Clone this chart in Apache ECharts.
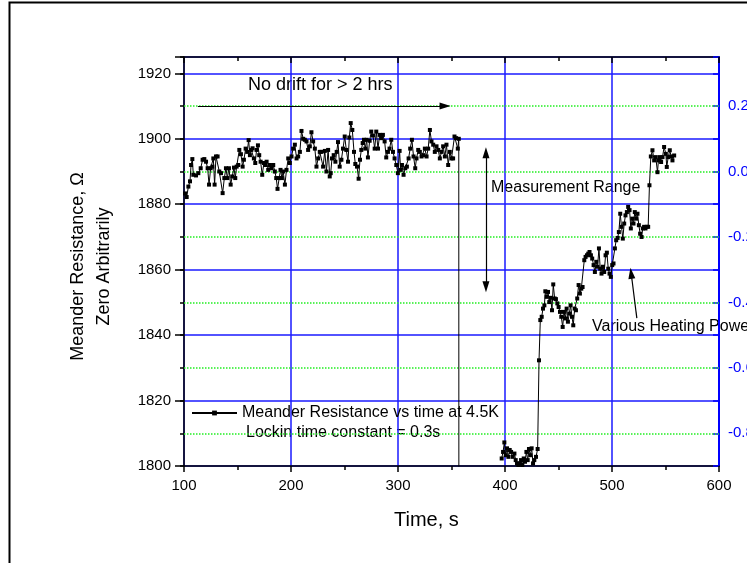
<!DOCTYPE html>
<html>
<head>
<meta charset="utf-8">
<script src="https://cdn.jsdelivr.net/npm/echarts@6/dist/echarts.min.js"></script>
<style>
html, body { margin: 0; padding: 0; background: #fff; }
#main { width: 747px; height: 563px; }
</style>
</head>
<body>
<div id="main"></div>
<script>
// first run, before the heater steps (time in s, resistance in ohm)
const driftTime = [101.0, 102.5, 104.1, 105.6, 106.6, 107.8, 108.7, 111.2, 113.4, 115.6, 117.4, 119.0, 120.6, 122.1, 123.4, 124.9, 126.5, 127.4, 128.6, 129.9,
  131.4, 133.0, 134.6, 136.1, 137.7, 139.2, 140.5, 142.0, 143.6, 145.1, 146.7, 147.9, 149.2, 150.7, 151.7, 153.2, 154.8, 156.0, 157.6, 159.1,
  160.4, 161.6, 162.9, 164.1, 165.3, 166.6, 167.8, 169.1, 170.3, 171.6, 173.1, 174.7, 175.9, 177.2, 178.7, 180.3, 181.8, 183.4, 184.9, 186.2,
  187.4, 189.0, 190.2, 191.5, 192.7, 194.3, 195.8, 197.4, 198.9, 200.5, 202.0, 203.6, 205.2, 206.7, 208.3, 209.8, 211.4, 212.9, 214.5, 216.0,
  217.6, 219.1, 220.7, 222.3, 223.8, 225.4, 226.9, 228.5, 230.0, 231.6, 233.1, 234.7, 236.2, 237.1, 238.3, 239.9, 241.5, 242.7, 243.9, 245.5,
  247.1, 248.6, 250.2, 251.7, 253.3, 254.5, 255.8, 257.3, 258.9, 260.1, 261.7, 263.2, 264.5, 265.7, 267.0, 268.2, 269.4, 270.7, 271.9, 273.5,
  275.0, 276.6, 278.2, 279.7, 281.3, 282.8, 284.4, 285.9, 287.5, 289.0, 290.6, 292.1, 293.7, 295.3, 296.8, 298.4, 299.9, 301.5, 302.4, 303.7,
  305.2, 306.8, 308.3, 309.9, 311.4, 313.0, 314.5, 316.1, 317.3, 318.9, 320.4, 322.0, 323.6, 325.1, 326.7, 328.2, 329.8, 331.3, 332.9, 334.4,
  336.0, 337.6, 339.1, 340.7, 342.2, 343.8, 345.3, 346.9, 348.4, 350.0, 351.5, 352.8, 354.3, 355.9, 356.8, 357.0];
const driftRes = [1883.3, 1882.2, 1885.4, 1887.0, 1892.0, 1893.8, 1889.0, 1888.8, 1889.5, 1891.0, 1893.6, 1893.8, 1893.0, 1891.0, 1886.0, 1891.0, 1891.5, 1894.0, 1886.0, 1894.6,
  1894.6, 1890.0, 1889.5, 1883.4, 1888.0, 1891.0, 1888.0, 1891.0, 1886.0, 1888.5, 1891.2, 1888.0, 1891.5, 1892.0, 1896.6, 1895.3, 1891.5, 1893.6, 1897.0, 1896.0,
  1899.6, 1895.0, 1896.6, 1897.1, 1894.0, 1892.6, 1896.6, 1898.0, 1895.0, 1893.0, 1889.0, 1892.6, 1892.0, 1893.0, 1890.5, 1892.0, 1891.0, 1892.0, 1890.0, 1888.0,
  1884.7, 1888.0, 1890.5, 1888.0, 1890.0, 1886.0, 1890.5, 1894.0, 1892.6, 1894.6, 1897.0, 1898.2, 1894.0, 1894.6, 1896.0, 1902.4, 1900.0, 1899.7, 1899.2, 1896.6,
  1897.7, 1902.0, 1899.2, 1897.0, 1891.5, 1894.0, 1896.0, 1896.0, 1891.5, 1896.3, 1890.0, 1896.6, 1888.5, 1889.5, 1894.0, 1895.0, 1893.0, 1896.0, 1899.0, 1891.5,
  1893.6, 1897.0, 1900.7, 1896.6, 1893.0, 1900.4, 1904.8, 1902.7, 1896.0, 1892.3, 1891.5, 1887.8, 1893.6, 1896.6, 1898.7, 1899.7, 1897.0, 1899.7, 1894.3, 1899.4,
  1902.2, 1901.0, 1897.0, 1902.2, 1897.0, 1901.2, 1900.2, 1901.2, 1899.2, 1894.3, 1896.0, 1897.0, 1899.7, 1896.0, 1894.0, 1892.0, 1889.5, 1896.3, 1890.5, 1892.0,
  1889.0, 1891.0, 1891.5, 1894.0, 1897.0, 1899.7, 1894.6, 1891.0, 1894.0, 1896.6, 1896.0, 1894.6, 1895.0, 1897.0, 1894.6, 1897.0, 1902.7, 1899.2, 1898.2, 1896.0,
  1897.7, 1896.6, 1894.0, 1896.0, 1897.7, 1894.6, 1898.2, 1892.0, 1896.0, 1894.0, 1894.0, 1900.7, 1900.2, 1897.0, 1900.0, 1650.0];

// second run, heating power stepped up
const heatTime = [396.9, 398.2, 399.4, 400.7, 401.9, 403.2, 404.4, 405.7, 407.2, 408.8, 410.0, 411.2, 412.5, 413.7, 415.0, 416.2, 417.5, 418.7, 420.0, 421.2,
  422.4, 423.7, 424.9, 426.2, 427.4, 429.0, 430.5, 431.8, 433.0, 434.3, 435.5, 436.8, 437.7, 438.9, 440.2, 441.4, 442.7, 443.9, 445.1, 446.4,
  447.6, 448.9, 450.1, 451.4, 452.6, 453.9, 455.1, 456.3, 457.6, 458.8, 460.1, 461.3, 462.6, 463.8, 465.1, 466.3, 467.5, 468.8, 470.0, 471.3,
  472.5, 474.1, 475.3, 476.6, 477.8, 479.0, 480.3, 481.5, 482.8, 484.0, 485.3, 486.5, 487.8, 489.0, 490.2, 491.5, 492.7, 494.0, 495.2, 496.5,
  497.7, 498.9, 500.2, 501.4, 502.7, 503.9, 505.2, 506.4, 507.7, 508.9, 510.1, 511.4, 512.6, 513.9, 515.1, 516.4, 517.6, 518.9, 520.1, 521.3,
  522.6, 523.8, 525.1, 526.3, 527.6, 528.8, 530.0, 531.3, 532.5, 533.8, 535.0, 536.3, 537.8, 539.4, 540.9, 542.5, 543.4, 544.7, 545.9, 547.2,
  548.7, 550.3, 551.2, 552.5, 554.0, 555.3, 556.5, 558.1];
const heatRes = [1802.3, 1804.3, 1807.2, 1803.3, 1805.4, 1802.8, 1804.9, 1804.3, 1802.8, 1803.8, 1801.8, 1800.8, 1800.3, 1800.8, 1801.8, 1800.3, 1802.3, 1801.3, 1804.3, 1801.8,
  1805.2, 1803.3, 1805.4, 1800.8, 1801.8, 1802.8, 1805.2, 1832.3, 1844.6, 1845.6, 1848.1, 1849.1, 1853.4, 1851.7, 1853.2, 1850.1, 1851.4, 1847.6, 1855.5, 1851.2,
  1851.0, 1849.7, 1848.6, 1847.1, 1845.6, 1842.5, 1847.1, 1845.1, 1848.1, 1844.1, 1846.6, 1849.1, 1845.6, 1843.0, 1848.1, 1847.6, 1851.2, 1855.3, 1852.7, 1854.2,
  1854.7, 1862.9, 1863.9, 1864.4, 1864.9, 1865.4, 1864.4, 1863.4, 1861.4, 1859.3, 1862.4, 1860.9, 1866.5, 1860.3, 1858.8, 1860.9, 1859.3, 1864.4, 1865.2, 1860.3,
  1858.8, 1857.8, 1861.4, 1861.9, 1866.5, 1869.0, 1869.7, 1871.5, 1877.1, 1873.1, 1869.5, 1874.1, 1876.6, 1877.6, 1879.2, 1878.2, 1872.6, 1875.6, 1874.1, 1877.6,
  1875.6, 1877.1, 1873.6, 1871.0, 1870.0, 1872.6, 1873.1, 1872.6, 1873.1, 1873.1, 1885.8, 1894.6, 1896.5, 1893.4, 1894.4, 1889.8, 1893.4, 1894.4, 1892.9, 1894.4,
  1897.5, 1895.4, 1891.4, 1894.4, 1896.5, 1894.6, 1893.4, 1894.9];

const minorLevels = [1810, 1830, 1850, 1870, 1890, 1910];
const rightTickLabels = [-0.8, -0.6, -0.4, -0.2, 0.0, 0.2];
const seriesName = 'Meander Resistance vs time at 4.5K';

const FONT = '"Liberation Sans", Arial, sans-serif';

function pairs(ts, vs) {
    return ts.map((t, i) => [t, vs[i]]);
}

const dataLine = (name, data) => ({
    name: name,
    type: 'line',
    data: data,
    xAxisIndex: 0,
    yAxisIndex: 0,
    symbol: 'rect',
    symbolSize: 4,
    showAllSymbol: true,
    lineStyle: { color: '#000', width: 1 },
    itemStyle: { color: '#000' },
    clip: true,
    z: 5
});

const chart = echarts.init(document.getElementById('main'), null, { renderer: 'canvas' });

const option = {
    animation: false,
    backgroundColor: '#fff',
    textStyle: { fontFamily: FONT },
    grid: { left: 184, right: 28, top: 57, bottom: 97, outerBoundsMode: 'none', containLabel: false },
    legend: {
        data: [seriesName],
        left: 186,
        top: 400,
        itemWidth: 45,
        itemHeight: 6,
        selectedMode: false,
        textStyle: { fontSize: 16, color: '#000', fontFamily: FONT }
    },
    xAxis: [
        {
            type: 'value', min: 100, max: 600, interval: 100, position: 'bottom',
            axisLine: { onZero: false, lineStyle: { color: '#000', width: 1.5 } },
            axisTick: { length: 6, lineStyle: { color: '#000', width: 1.5 } },
            minorTick: { show: true, splitNumber: 2, length: 4, lineStyle: { color: '#000', width: 1.5 } },
            axisLabel: { color: '#000', fontSize: 15, margin: 12, fontFamily: FONT },
            splitLine: { show: true, lineStyle: { color: '#1a1aff', width: 1.5 } }
        },
        {
            type: 'value', min: 100, max: 600, interval: 100, position: 'top',
            axisLine: { onZero: false, lineStyle: { color: '#000', width: 1.5 } },
            axisTick: { inside: true, length: 6, lineStyle: { color: '#000', width: 1.5 } },
            minorTick: { show: true, splitNumber: 2, length: 4, lineStyle: { color: '#000', width: 1.5 } },
            axisLabel: { show: false },
            splitLine: { show: false }
        }
    ],
    yAxis: [
        {
            type: 'value', min: 1800, max: 1925, interval: 20, position: 'left',
            axisLine: { onZero: false, lineStyle: { color: '#000', width: 1.5 } },
            axisTick: { length: 9, lineStyle: { color: '#000', width: 1.5 } },
            axisLabel: {
                color: '#000', fontSize: 15, margin: 13, fontFamily: FONT,
                formatter: v => (v % 20 === 0 ? String(v) : '')
            },
            splitLine: { show: true, lineStyle: { color: '#1a1aff', width: 1.5, type: 'solid' } }
        },
        {
            type: 'value', min: -0.9, max: 0.35, interval: 0.1, position: 'right',
            axisLine: { onZero: false, lineStyle: { color: '#0000ff', width: 2 } },
            axisTick: { inside: true, length: 6, lineStyle: { color: '#0000ff', width: 1.5 } },
            axisLabel: {
                color: '#0000ff', fontSize: 15, margin: 9, fontFamily: FONT,
                formatter: v => {
                    const hit = rightTickLabels.find(r => Math.abs(r - v) < 1e-6);
                    return hit === undefined ? '' : hit.toFixed(1);
                }
            },
            splitLine: { show: false }
        },
        {
            // short ticks at the half steps of the left axis
            type: 'value', min: 1800, max: 1925, interval: 10, position: 'left',
            axisLine: { show: false, onZero: false },
            axisTick: { length: 4, lineStyle: { color: '#000', width: 1.5 } },
            axisLabel: { show: false },
            splitLine: { show: false }
        }
    ],
    series: [
        {
            // dotted half-step grid
            type: 'line',
            data: [],
            silent: true,
            xAxisIndex: 0,
            yAxisIndex: 0,
            z: 1,
            markLine: {
                silent: true,
                animation: false,
                symbol: 'none',
                label: { show: false },
                lineStyle: { color: '#22ee22', width: 1.5, type: [1.5, 1.5] },
                data: minorLevels.map(v => ({ yAxis: v }))
            }
        },
        dataLine(seriesName, pairs(driftTime, driftRes)),
        dataLine(seriesName, pairs(heatTime, heatRes)),
        {
            type: 'line',
            data: [],
            silent: true,
            xAxisIndex: 0,
            yAxisIndex: 0,
            z: 6,
            markLine: {
                silent: true,
                animation: false,
                label: { show: false },
                symbolSize: [7, 11],
                lineStyle: { color: '#000', width: 1.2, type: 'solid' },
                data: [
                    [{ coord: [113, 1910], symbol: 'none' }, { coord: [344, 1910], symbol: 'triangle' }],
                    [{ coord: [382.2, 1895.7], symbol: 'triangle' }, { coord: [382.2, 1854.8], symbol: 'triangle' }],
                    [{ coord: [523.2, 1845.2], symbol: 'none', lineStyle: { curveness: -0.15 } }, { coord: [517.9, 1858.9], symbol: 'triangle' }]
                ]
            }
        }
    ],
    graphic: [
        {
            type: 'polyline', silent: true,
            shape: { points: [[9.5, 563], [9.5, 2.5], [747, 2.5]] },
            style: { stroke: '#000', lineWidth: 2, fill: null }
        },
        {
            type: 'text', x: 91, y: 266.5, rotation: Math.PI / 2, silent: true,
            style: {
                text: 'Meander Resistance, \u03A9\nZero Arbitrarily',
                font: '18px ' + FONT, fill: '#000', align: 'center', verticalAlign: 'middle', lineHeight: 26
            }
        },
        {
            type: 'text', x: 394, y: 520, silent: true,
            style: { text: 'Time, s', font: '20px ' + FONT, fill: '#000', align: 'left', verticalAlign: 'middle' }
        },
        {
            type: 'text', x: 248, y: 85, silent: true,
            style: { text: 'No drift for > 2 hrs', font: '18px ' + FONT, fill: '#000', align: 'left', verticalAlign: 'middle' }
        },
        {
            type: 'text', x: 491, y: 188, silent: true,
            style: { text: 'Measurement Range', font: '16px ' + FONT, fill: '#000', align: 'left', verticalAlign: 'middle' }
        },
        {
            type: 'text', x: 592, y: 327, silent: true,
            style: { text: 'Various Heating Powers', font: '16px ' + FONT, fill: '#000', align: 'left', verticalAlign: 'middle' }
        },
        {
            type: 'text', x: 246, y: 433, silent: true,
            style: { text: 'Lockin time constant = 0.3s', font: '16px ' + FONT, fill: '#000', align: 'left', verticalAlign: 'middle' }
        }
    ]
};

chart.setOption(option);
</script>
</body>
</html>
